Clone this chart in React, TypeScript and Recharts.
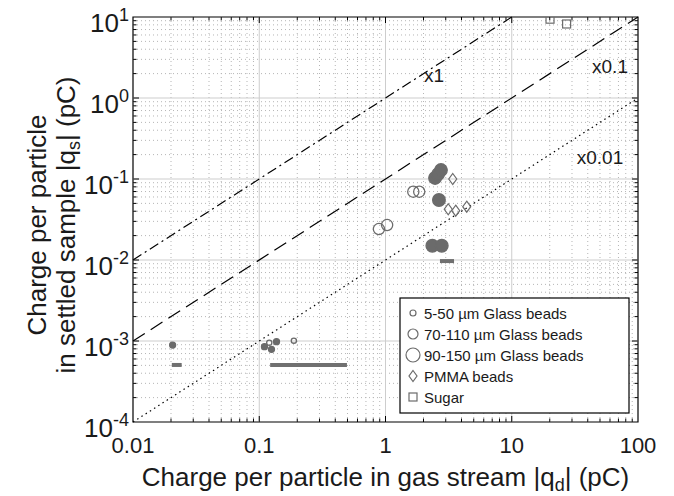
import React from 'react';
import { ScatterChart, Scatter, XAxis, YAxis, ReferenceLine, ReferenceArea } from 'recharts';

const W = 674;
const H = 496;
const FONT = '"Liberation Sans", Arial, sans-serif';
const INK = '#1a1a1a';
const GREY = '#6b6b6b';

// axes
const xTicks = [0.01, 0.1, 1, 10, 100];
const xTickLabels = ['0.01', '0.1', '1', '10', '100'];
const yTicks = [1e-4, 1e-3, 1e-2, 1e-1, 1, 10];
const yTickExps = ['-4', '-3', '-2', '-1', '0', '1'];
const minorSteps = [2, 3, 4, 5, 6, 7, 8, 9];

// data (pC)
const smallFilled = [
  { x: 0.0206, y: 0.00089 },
  { x: 0.11, y: 0.00085 },
  { x: 0.125, y: 0.00079 },
  { x: 0.137, y: 0.00098 },
];
const smallHollow = [
  { x: 0.12, y: 0.00095 },
  { x: 0.188, y: 0.00101 },
];
const mediumBeads = [
  { x: 0.887, y: 0.0241 },
  { x: 1.03, y: 0.027 },
  { x: 1.66, y: 0.0697 },
  { x: 1.85, y: 0.0697 },
];
const largeBeads = [
  { x: 2.47, y: 0.103 },
  { x: 2.61, y: 0.115 },
  { x: 2.75, y: 0.129 },
  { x: 2.65, y: 0.055 },
  { x: 2.35, y: 0.015 },
  { x: 2.79, y: 0.015 },
];
const pmmaBeads = [
  { x: 3.41, y: 0.1 },
  { x: 3.14, y: 0.0423 },
  { x: 3.6, y: 0.0406 },
  { x: 4.4, y: 0.0455 },
];
const sugar = [
  { x: 20.1, y: 9.4 },
  { x: 27.2, y: 8.2 },
];
// horizontal grey bars
const ranges = [
  { x1: 0.0203, x2: 0.0243, y: 0.000506 },
  { x1: 0.122, x2: 0.495, y: 0.000506 },
  { x1: 2.7, x2: 3.49, y: 0.0097 },
];

// ratio lines qs = k * qd
const ratioK = [1, 0.1, 0.01];
const ratioLabels = ['x1', 'x0.1', 'x0.01'];
const ratioDash = ['10 4 2 4', '14 7', '1.5 3.5'];

const legendLabels = [
  '5-50 µm Glass beads',
  '70-110 µm Glass beads',
  '90-150 µm Glass beads',
  'PMMA beads',
  'Sugar',
];

const xMinor = xTicks.slice(0, -1).flatMap((d) => minorSteps.map((m) => d * m));
const yMinor = yTicks.slice(0, -1).flatMap((d) => minorSteps.map((m) => d * m));
const xInner = xTicks.slice(1, -1);
const yInner = yTicks.slice(1, -1);

const vGrid = (major: boolean) => (p: any) => {
  const top = Math.min(p.y1, p.y2);
  const bot = Math.max(p.y1, p.y2);
  const t = major ? 6 : 3.5;
  return (
    <g>
      <line x1={p.x1} x2={p.x1} y1={top} y2={bot} stroke={major ? '#cdcdcd' : '#b5b5b5'}
        strokeDasharray={major ? undefined : '1 3'} />
      <line x1={p.x1} x2={p.x1} y1={bot} y2={bot - t} stroke="#000" />
      <line x1={p.x1} x2={p.x1} y1={top} y2={top + t} stroke="#000" />
    </g>
  );
};

const hGrid = (major: boolean) => (p: any) => {
  const l = Math.min(p.x1, p.x2);
  const r = Math.max(p.x1, p.x2);
  const t = major ? 6 : 3.5;
  return (
    <g>
      <line x1={l} x2={r} y1={p.y1} y2={p.y1} stroke={major ? '#cdcdcd' : '#b5b5b5'}
        strokeDasharray={major ? undefined : '1 3'} />
      <line x1={l} x2={l + t} y1={p.y1} y2={p.y1} stroke="#000" />
      <line x1={r} x2={r - t} y1={p.y1} y2={p.y1} stroke="#000" />
    </g>
  );
};

const dot = (r: number, filled: boolean) => (p: any) => (
  <circle cx={p.cx} cy={p.cy} r={r} fill={filled ? GREY : 'none'} stroke={GREY} strokeWidth={1.3} />
);
const diamond = (p: any) => (
  <polygon
    points={`${p.cx},${p.cy - 5.5} ${p.cx + 4},${p.cy} ${p.cx},${p.cy + 5.5} ${p.cx - 4},${p.cy}`}
    fill="none" stroke={GREY} strokeWidth={1.2} />
);
const square = (p: any) => (
  <rect x={p.cx - 4} y={p.cy - 4} width={8} height={8} fill="none" stroke={GREY} strokeWidth={1.2} />
);

const XTick = (p: any) => (
  <text x={p.x} y={p.y + 31} textAnchor="middle" fontSize={22} fill={INK} fontFamily={FONT}>
    {xTickLabels[p.index]}
  </text>
);

const YTick = (p: any) => (
  <text x={p.x - 4} y={p.y + 15} textAnchor="end" fontSize={26} fill={INK} fontFamily={FONT}>
    10<tspan dy={-11} fontSize={18}>{yTickExps[p.index]}</tspan>
  </text>
);

const legendMarker = (i: number, x: number, y: number) => {
  if (i === 0) return <circle cx={x} cy={y} r={3} fill="none" stroke={GREY} strokeWidth={1.2} />;
  if (i === 1) return <circle cx={x} cy={y} r={5} fill="none" stroke={GREY} strokeWidth={1.2} />;
  if (i === 2) return <circle cx={x} cy={y} r={7} fill="none" stroke={GREY} strokeWidth={1.2} />;
  if (i === 3)
    return <polygon points={`${x},${y - 5.5} ${x + 4},${y} ${x},${y + 5.5} ${x - 4},${y}`} fill="none" stroke={GREY} strokeWidth={1.2} />;
  return <rect x={x - 4} y={y - 4} width={8} height={8} fill="none" stroke={GREY} strokeWidth={1.2} />;
};

export default function App() {
  return (
    <div style={{ position: 'absolute', left: 0, top: 0, width: W, height: H, background: '#fff', fontFamily: FONT }}>
      <ScatterChart width={W} height={H} margin={{ top: 17, right: 36, bottom: 0, left: 0 }}>
        <XAxis type="number" dataKey="x" scale="log" domain={[0.01, 100]} allowDataOverflow
          ticks={xTicks} interval={0} height={74} tickSize={0} tickMargin={0}
          tickLine={false} axisLine={false} tick={XTick} />
        <YAxis type="number" dataKey="y" scale="log" domain={[1e-4, 10]} allowDataOverflow
          ticks={yTicks} interval={0} width={133} tickSize={0} tickMargin={0}
          tickLine={false} axisLine={false} tick={YTick} />

        {xMinor.map((v) => (
          <ReferenceLine key={`xm${v}`} x={v} shape={vGrid(false)} />
        ))}
        {yMinor.map((v) => (
          <ReferenceLine key={`ym${v}`} y={v} shape={hGrid(false)} />
        ))}
        {xInner.map((v) => (
          <ReferenceLine key={`xM${v}`} x={v} shape={vGrid(true)} />
        ))}
        {yInner.map((v) => (
          <ReferenceLine key={`yM${v}`} y={v} shape={hGrid(true)} />
        ))}

        {ratioK.map((k, i) => (
          <ReferenceLine key={ratioLabels[i]}
            segment={[{ x: 0.01, y: 0.01 * k }, { x: Math.min(100, 10 / k), y: Math.min(100, 10 / k) * k }]}
            stroke="#000" strokeWidth={1.2} strokeDasharray={ratioDash[i]} />
        ))}

        {ranges.map((r, i) => (
          <ReferenceLine key={`rg${i}`} segment={[{ x: r.x1, y: r.y }, { x: r.x2, y: r.y }]}
            stroke="#707070" strokeWidth={4} />
        ))}

        <Scatter data={smallFilled} shape={dot(3, true)} isAnimationActive={false} />
        <Scatter data={smallHollow} shape={dot(2.6, false)} isAnimationActive={false} />
        <Scatter data={mediumBeads} shape={dot(5.6, false)} isAnimationActive={false} />
        <Scatter data={largeBeads} shape={dot(6.3, true)} isAnimationActive={false} />
        <Scatter data={pmmaBeads} shape={diamond} isAnimationActive={false} />
        <Scatter data={sugar} shape={square} isAnimationActive={false} />

        <ReferenceArea x1={0.01} x2={100} y1={1e-4} y2={10} fill="none" stroke="#000" strokeWidth={1.2} />
      </ScatterChart>

      <svg width={W} height={H} style={{ position: 'absolute', left: 0, top: 0, pointerEvents: 'none' }}>
        <g fontFamily={FONT} fill={INK}>
          <text x={434} y={82} fontSize={19} textAnchor="middle">{ratioLabels[0]}</text>
          <text x={610} y={73} fontSize={19} textAnchor="middle">{ratioLabels[1]}</text>
          <text x={600} y={164} fontSize={19} textAnchor="middle">{ratioLabels[2]}</text>

          <text x={385.5} y={486} fontSize={26} textAnchor="middle">
            Charge per particle in gas stream |q<tspan dy={5} fontSize={18}>d</tspan>
            <tspan dy={-5}>| (pC)</tspan>
          </text>
          <g transform="translate(46,225) rotate(-90)">
            <text x={0} y={0} fontSize={26} textAnchor="middle">Charge per particle</text>
          </g>
          <g transform="translate(75,225) rotate(-90)">
            <text x={0} y={0} fontSize={26} textAnchor="middle">
              in settled sample |q<tspan dy={5} fontSize={18}>s</tspan>
              <tspan dy={-5}>| (pC)</tspan>
            </text>
          </g>

          <rect x={400} y={298} width={229} height={115} fill="#fff" stroke="#000" strokeWidth={1.2} />
          {legendLabels.map((lab, i) => (
            <g key={lab}>
              {legendMarker(i, 413, 313 + i * 21)}
              <text x={424} y={318.5 + i * 21} fontSize={15}>{lab}</text>
            </g>
          ))}
        </g>
      </svg>
    </div>
  );
}
